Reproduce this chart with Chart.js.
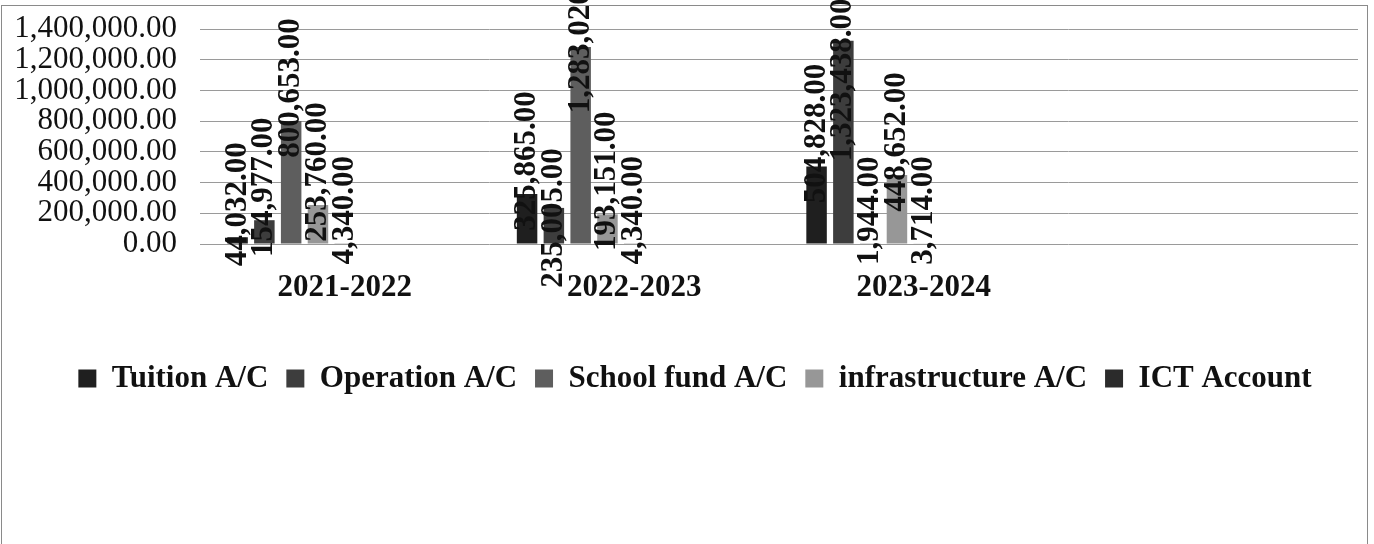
<!DOCTYPE html>
<html>
<head>
<meta charset="utf-8">
<script src="https://cdn.jsdelivr.net/npm/chart.js@4.4.1/dist/chart.umd.min.js"></script>
<style>
  html, body { margin: 0; padding: 0; background: #ffffff; }
  #wrap { width: 1374px; height: 544px; position: relative; }
</style>
</head>
<body>
<div id="wrap"><canvas id="accounts-chart"></canvas></div>
<script>
  // financial years (the fourth slot is left empty)
  const years = ["2021-2022", "2022-2023", "2023-2024", ""];

  const tuition = [44032, 325865, 504828, null];
  const operation = [154977, 235005, 1323438, null];
  const schoolFund = [800653, 1283020, 1944, null];
  const infrastructure = [253760, 193151, 448652, null];
  const ictAccount = [4340, 4340, 3714, null];

  const seriesNames = [
    "Tuition A/C",
    "Operation A/C",
    "School fund A/C",
    "infrastructure A/C",
    "ICT Account",
  ];

  const yTicks = [0, 200000, 400000, 600000, 800000, 1000000, 1200000, 1400000];

  const SERIES_COLORS = ["#1f1f1f", "#3d3d3d", "#5e5e5e", "#979797", "#2b2b2b"];
  const FONT = "'Liberation Serif', 'Times New Roman', serif";

  // a few labels were dragged off their default spot (pixels, + = down)
  const LABEL_NUDGE = {
    "1:1": 43,
    "2:1": 18,
    "1:2": 72,
  };

  const money = (v) =>
    Number(v).toLocaleString("en-US", {
      minimumFractionDigits: 2,
      maximumFractionDigits: 2,
    });

  const seriesData = [tuition, operation, schoolFund, infrastructure, ictAccount];

  const datasets = seriesData.map((values, i) => ({
    label: seriesNames[i],
    data: values,
    backgroundColor: SERIES_COLORS[i],
    borderWidth: 0,
  }));

  // the workbook had four more (empty) series, they still take a slot per year
  for (let i = 0; i < 4; i++) {
    datasets.push({ label: "", data: years.map(() => null), backgroundColor: "#000" });
  }

  // rotated value labels, centred a little above each bar's top
  const barValueLabels = {
    id: "barValueLabels",
    afterDatasetsDraw(chart) {
      const ctx = chart.ctx;
      ctx.save();
      ctx.font = `bold 31px ${FONT}`;
      ctx.fillStyle = "#111";
      ctx.textAlign = "center";
      ctx.textBaseline = "middle";
      seriesData.forEach((values, di) => {
        const meta = chart.getDatasetMeta(di);
        meta.data.forEach((bar, idx) => {
          const v = values[idx];
          if (v === null || v === undefined) return;
          const nudge = LABEL_NUDGE[`${di}:${idx}`] || 0;
          ctx.save();
          ctx.translate(bar.x, bar.y - 33 + nudge);
          ctx.rotate(-Math.PI / 2);
          ctx.fillText(money(v), 0, 0);
          ctx.restore();
        });
      });
      ctx.restore();
    },
  };

  // thin frame round the whole chart object; legend sits a bit right of centre
  const chartFrame = {
    id: "chartFrame",
    afterLayout(chart) {
      if (chart.legend) {
        chart.legend.left += 16;
        chart.legend.right += 16;
      }
    },
    beforeDraw(chart) {
      const ctx = chart.ctx;
      ctx.save();
      ctx.fillStyle = "#ffffff";
      ctx.fillRect(0, 0, chart.width, chart.height);
      ctx.strokeStyle = "#8a8a8a";
      ctx.lineWidth = 1;
      ctx.strokeRect(1.5, 5.5, 1366, 600);
      ctx.restore();
    },
  };

  new Chart(document.getElementById("accounts-chart"), {
    type: "bar",
    data: { labels: years, datasets },
    plugins: [chartFrame, barValueLabels],
    options: {
      responsive: true,
      maintainAspectRatio: false,
      animation: false,
      layout: {
        padding: { left: 0, right: 16, top: 29, bottom: 140 },
      },
      datasets: {
        bar: { categoryPercentage: 0.833, barPercentage: 0.765 },
      },
      plugins: {
        tooltip: { enabled: false },
        legend: {
          position: "bottom",
          labels: {
            color: "#111",
            font: { family: FONT, size: 31, weight: "bold" },
            boxWidth: 18,
            boxHeight: 18,
            padding: 18,
            filter: (item) => item.text !== "",
          },
        },
      },
      scales: {
        x: {
          grid: { display: false, drawTicks: false },
          border: { display: false },
          ticks: {
            color: "#111",
            padding: 25,
            maxRotation: 0,
            autoSkip: false,
            font: { family: FONT, size: 31, weight: "bold" },
          },
          afterFit: (scale) => {
            scale.height = 101;
          },
        },
        y: {
          min: yTicks[0],
          max: yTicks[yTicks.length - 1],
          grid: { color: "#9a9a9a", lineWidth: 1, drawTicks: false },
          border: { display: false },
          ticks: {
            stepSize: yTicks[1] - yTicks[0],
            autoSkip: false,
            color: "#111",
            padding: 23,
            font: { family: FONT, size: 31 },
            callback: (value) => money(value),
          },
          afterFit: (scale) => {
            scale.width = 200;
            // tick padding is horizontal only, don't let it push the plot down
            scale.paddingTop = 12;
            scale.paddingBottom = 12;
          },
        },
      },
    },
  });
</script>
</body>
</html>
